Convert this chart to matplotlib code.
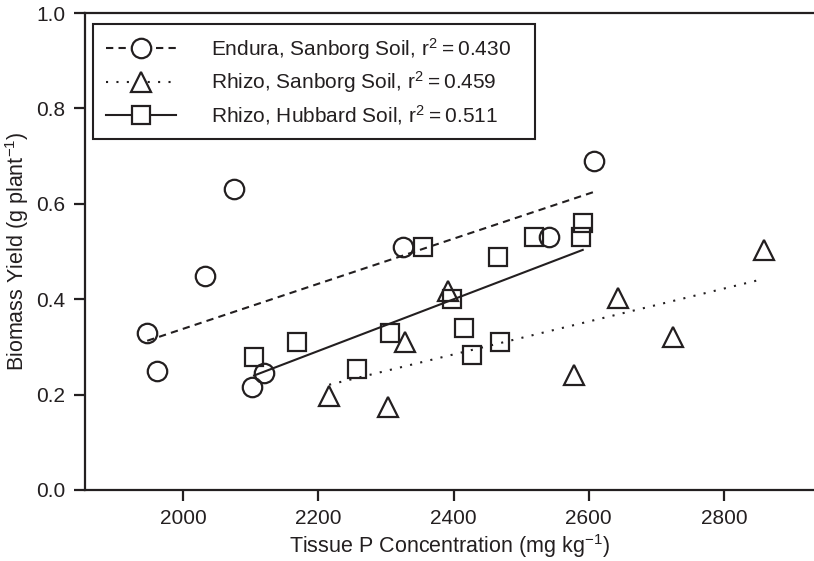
import numpy as np
import matplotlib
matplotlib.use('Agg')
import matplotlib.pyplot as plt

plt.rcParams['font.family'] = ['Liberation Sans', 'DejaVu Sans']
plt.rcParams['mathtext.fontset'] = 'custom'
plt.rcParams['mathtext.rm'] = 'Liberation Sans'
plt.rcParams['mathtext.it'] = 'Liberation Sans'

# Endura, Sanborg soil
endura_p = [1947, 1961, 2033, 2075, 2102, 2120, 2325, 2541, 2607]
endura_y = [0.330, 0.250, 0.449, 0.630, 0.215, 0.246, 0.509, 0.530, 0.690]

# Rhizo, Sanborg soil
rs_p = [2216, 2303, 2328, 2392, 2578, 2643, 2725, 2859]
rs_y = [0.196, 0.173, 0.311, 0.418, 0.241, 0.402, 0.321, 0.503]

# Rhizo, Hubbard soil
rh_p = [2105, 2169, 2257, 2306, 2355, 2397, 2415, 2427, 2466, 2469, 2519, 2588, 2591]
rh_y = [0.279, 0.310, 0.254, 0.330, 0.509, 0.400, 0.339, 0.284, 0.489, 0.310, 0.530, 0.530, 0.560]

labels = ['Endura, Sanborg Soil, r$^{2}$\u2009=\u20090.430   ',
          'Rhizo, Sanborg Soil, r$^{2}$\u2009=\u20090.459   ',
          'Rhizo, Hubbard Soil, r$^{2}$\u2009=\u20090.511   ']

ink = '#231f20'

fig = plt.figure(figsize=(8.14, 5.61), dpi=100)
ax = fig.add_axes([0.1044, 0.1266, 0.8956, 0.8502])

series = [(endura_p, endura_y, 'o', (0, (3.5, 2.5))),
          (rs_p, rs_y, '^', (0, (1, 4))),
          (rh_p, rh_y, 's', '-')]

for (px, py, mk, ls), lab in zip(series, labels):
    px = np.array(px, float)
    py = np.array(py, float)
    k, b = np.polyfit(px, py, 1)
    xs = np.array([px.min(), px.max()])
    ax.plot(xs, k * xs + b, color=ink, lw=1.5, ls=ls, zorder=2)
    ms = 14 if mk != 's' else 13
    ax.plot(px, py, ls='none', marker=mk, ms=ms,
            mfc='none', mec=ink, mew=1.6, zorder=3)
    # legend proxy
    ax.plot([], [], color=ink, lw=1.5, ls=ls, marker=mk,
            ms=ms, mfc='white', mec=ink, mew=1.6, label=lab)

ax.set_xlim(1855, 2933)
ax.set_ylim(0, 1.0)
ax.set_xticks([2000, 2200, 2400, 2600, 2800])
ax.set_yticks([0.0, 0.2, 0.4, 0.6, 0.8, 1.0])
ax.set_yticklabels(['0.0', '0.2', '0.4', '0.6', '0.8', '1.0'])

for s in ['left', 'bottom', 'top']:
    ax.spines[s].set_linewidth(1.6)
    ax.spines[s].set_color(ink)
ax.spines['right'].set_visible(False)
ax.tick_params(direction='out', length=8, width=1.6, color=ink,
               labelsize=15, labelcolor=ink, pad=6)

ax.set_xlabel('Tissue P Concentration (mg kg$^{-1}$)', fontsize=15.5, color=ink, labelpad=3)
ax.set_ylabel('Biomass Yield (g plant$^{-1}$)', fontsize=15.5, color=ink, labelpad=4)

leg = ax.legend(loc='upper left', bbox_to_anchor=(0.011, 0.978), fontsize=15,
                handlelength=3.4, handletextpad=1.65, labelspacing=0.36,
                borderpad=0.6, fancybox=False, framealpha=1, edgecolor=ink,
                borderaxespad=0)
leg.get_frame().set_linewidth(1.5)
for t in leg.get_texts():
    t.set_color(ink)

fig.savefig('out.png', dpi=100)
